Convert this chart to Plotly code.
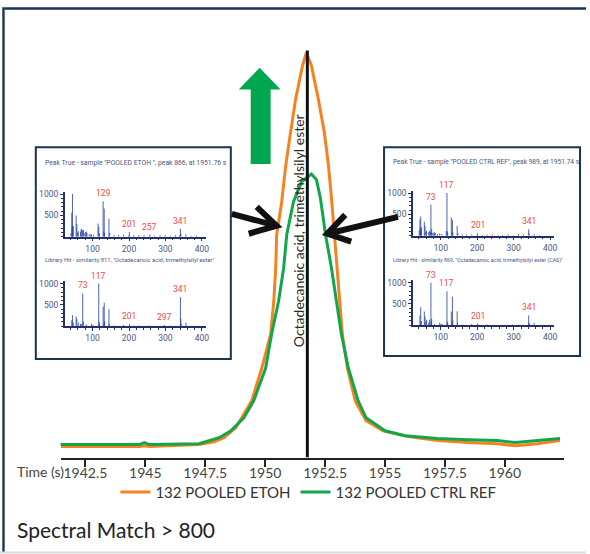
import plotly.graph_objects as go

# ---------------- data ----------------
time_etoh = [1941.48, 1943.09, 1944.75, 1944.96, 1945.17, 1947.24, 1947.87, 1948.28, 1948.78,
             1949.44, 1949.86, 1950.23, 1950.36, 1950.44, 1950.48, 1950.69, 1950.86, 1951.06,
             1951.27, 1951.56, 1951.72, 1951.93, 1952.22, 1952.47, 1952.64, 1952.77, 1952.89,
             1953.02, 1953.10, 1953.22, 1953.43, 1953.76, 1954.21, 1954.92, 1955.96, 1957.20,
             1958.45, 1959.69, 1960.44, 1961.35, 1962.30]
int_etoh = [2.7, 2.7, 2.7, 2.9, 2.7, 3.2, 3.9, 4.9, 7.4,
            14.0, 22.1, 30.5, 38.6, 46.7, 55.0, 63.1, 72.2, 80.3,
            88.5, 96.8, 100.0, 96.8, 88.5, 80.3, 72.2, 63.9, 55.0,
            46.7, 38.6, 30.5, 22.1, 14.0, 9.1, 6.6, 5.2, 4.2,
            3.7, 3.4, 2.9, 3.4, 4.2]

time_ctrl = [1941.35, 1944.75, 1944.96, 1945.17, 1947.24, 1948.08, 1948.57, 1949.11, 1949.52,
             1950.02, 1950.27, 1950.56, 1950.77, 1950.90, 1951.18, 1951.52, 1951.93, 1952.14,
             1952.31, 1952.52, 1952.77, 1952.98, 1953.18, 1953.47, 1953.88, 1954.21, 1955.00,
             1955.83, 1957.20, 1958.45, 1959.69, 1960.44, 1961.35, 1962.30]
int_ctrl = [3.2, 3.2, 3.7, 3.2, 3.4, 4.9, 6.6, 9.8, 14.0,
            22.1, 30.5, 38.6, 46.7, 55.0, 63.1, 68.1, 70.0, 68.6,
            63.9, 55.0, 46.7, 38.6, 30.5, 22.1, 14.0, 9.8, 6.6,
            5.4, 4.7, 4.4, 4.2, 3.7, 4.2, 4.7]

time_ticks = [1942.5, 1945, 1947.5, 1950, 1952.5, 1955, 1957.5, 1960]
time_ticktext = ["1942.5", "1945", "1947.5", "1950", "1952.5", "1955", "1957.5", "1960"]
retention_time = 1951.76
series_names = ["132 POOLED ETOH", "132 POOLED CTRL REF"]
compound = "Octadecanoic acid, trimethylsilyl ester"

# spectra (m/z, abundance)
mz_s1 = [41, 43, 44, 45, 46, 47, 55, 57, 59, 61, 67, 69, 71, 73, 75, 77, 81, 83, 85, 91, 95, 97,
         103, 115, 117, 119, 129, 131, 132, 133, 145, 147, 159, 171, 185, 199, 201, 213, 227, 241,
         257, 269, 285, 299, 313, 327, 339, 341, 342, 356, 370, 385]
ab_s1 = [80, 560, 220, 1000, 240, 250, 500, 300, 100, 130, 120, 180, 170, 150, 160, 90, 110, 120,
         80, 60, 50, 60, 40, 310, 240, 90, 830, 120, 660, 90, 420, 90, 40, 40, 50, 30, 110, 40, 40,
         40, 50, 30, 40, 40, 30, 40, 40, 190, 70, 50, 25, 20]
lab_s1 = [129, 201, 257, 341]

mz_l1 = [43, 45, 47, 55, 57, 61, 67, 69, 73, 75, 83, 97, 101, 117, 118, 119, 129, 131, 132, 133,
         145, 146, 159, 185, 201, 213, 227, 255, 297, 313, 341, 342, 343, 356]
ab_l1 = [140, 260, 90, 230, 170, 90, 50, 60, 770, 110, 40, 60, 30, 1000, 110, 60, 460, 60, 550,
         120, 400, 60, 20, 30, 50, 20, 20, 20, 30, 20, 680, 170, 60, 80]
lab_l1 = [73, 117, 201, 297, 341]

mz_s2 = [41, 43, 44, 45, 46, 47, 55, 57, 59, 61, 67, 69, 71, 73, 74, 75, 77, 81, 83, 85, 91, 97,
         103, 115, 117, 118, 119, 129, 131, 132, 133, 145, 147, 159, 171, 185, 199, 201, 213, 227,
         241, 257, 269, 285, 299, 313, 327, 341, 342, 356, 370]
ab_s2 = [120, 380, 180, 450, 140, 200, 330, 220, 90, 120, 80, 110, 90, 730, 100, 160, 60, 70, 80,
         60, 40, 50, 40, 110, 1000, 100, 60, 430, 80, 370, 80, 230, 60, 30, 30, 30, 20, 60, 20, 30,
         30, 20, 20, 30, 20, 40, 30, 150, 60, 40, 20]
lab_s2 = [73, 117, 201, 341]

mz_l2 = [43, 45, 47, 55, 57, 59, 61, 67, 69, 73, 74, 75, 83, 97, 101, 103, 117, 118, 119, 129,
         131, 132, 133, 145, 146, 159, 185, 201, 227, 297, 313, 341, 342, 343, 356]
ab_l2 = [230, 420, 100, 320, 200, 80, 130, 60, 130, 1000, 90, 150, 30, 60, 30, 30, 800, 90, 50,
         320, 60, 670, 110, 330, 50, 20, 30, 40, 20, 20, 20, 230, 60, 30, 60]
lab_l2 = [73, 117, 201, 341]

titles = [
    'Peak True - sample "POOLED ETOH ", peak 866, at 1951.76 s',
    'Library Hit - similarity 811, "Octadecanoic acid, trimethylsilyl ester"',
    'Peak True - sample "POOLED CTRL REF", peak 989, at 1951.74 s',
    'Library Hit - similarity 869, "Octadecanoic acid, trimethylsilyl ester (CAS)"',
]

# ---------------- styling / layout helpers ----------------
W, H = 590, 554
def fx(p):
    return p / W
def fy(p):
    return 1 - p / H

ORANGE = "#F5821F"
GREEN = "#12A64B"
NAVY = "#1B3352"
BAR = "rgba(38,68,160,0.8)"
RED = "#EC4A45"
AXC = "#24306B"
TXT = "#4A5585"

fig = go.Figure()
fig.add_trace(go.Scatter(x=time_etoh, y=int_etoh, mode="lines", name=series_names[0],
                         line=dict(color=ORANGE, width=3), xaxis="x", yaxis="y"))
fig.add_trace(go.Scatter(x=time_ctrl, y=int_ctrl, mode="lines", name=series_names[1],
                         line=dict(color=GREEN, width=3), xaxis="x", yaxis="y"))

insets = [
    (mz_s1, ab_s1, lab_s1, (65, 207), (235, 190)),
    (mz_l1, ab_l1, lab_l1, (65, 207), (325, 280)),
    (mz_s2, ab_s2, lab_s2, (415, 557), (234, 189)),
    (mz_l2, ab_l2, lab_l2, (415, 557), (324, 279)),
]

layout_axes = {}
annotations = []
for i, (mz, ab, labs, xd, yd) in enumerate(insets):
    n = i + 2
    fig.add_trace(go.Bar(x=mz, y=ab, width=2.8, marker=dict(color=BAR, line_width=0),
                         xaxis=f"x{n}", yaxis=f"y{n}", showlegend=False))
    layout_axes[f"xaxis{n}"] = dict(
        domain=[fx(xd[0]), fx(xd[1])], range=[23.6, 410.9], anchor=f"y{n}",
        showline=True, linecolor=AXC, linewidth=1.5, ticks="outside", ticklen=3,
        tickwidth=1, tickcolor=AXC, tickvals=[100, 200, 300, 400], showgrid=False,
        zeroline=False, tickfont=dict(family="Roboto", size=8.5, color=TXT),
        minor=dict(ticks="outside", ticklen=2, dtick=20, tick0=0, tickcolor=AXC),
    )
    layout_axes[f"yaxis{n}"] = dict(
        domain=[fy(yd[0]), fy(yd[1])], range=[0, 1050], anchor=f"x{n}",
        showline=True, linecolor=AXC, linewidth=1.5, ticks="outside", ticklen=3,
        tickwidth=1, tickcolor=AXC, tickvals=[500, 1000], showgrid=False, zeroline=False,
        tickfont=dict(family="Roboto", size=8.5, color=TXT),
        minor=dict(ticks="outside", ticklen=2, dtick=100, tickcolor=AXC),
    )
    for m in labs:
        annotations.append(dict(x=m, y=ab[mz.index(m)], xref=f"x{n}", yref=f"y{n}",
                                text=str(m), showarrow=False, yanchor="bottom", yshift=1,
                                font=dict(family="Roboto", size=8.5, color=RED)))

# inset titles
title_pos = [(43, 161, 6.8), (43, 258, 5.8), (393, 160, 6.6), (393, 259, 5.3)]
for t, (x, y, s) in zip(titles, title_pos):
    annotations.append(dict(x=fx(x), y=fy(y), xref="paper", yref="paper", text=t,
                            showarrow=False, xanchor="left", yanchor="middle",
                            font=dict(family="Roboto", size=s, color=TXT)))

# vertical compound label
annotations.append(dict(x=fx(300), y=fy(229), xref="paper", yref="paper", text=compound,
                        textangle=-90, showarrow=False, xanchor="center", yanchor="middle",
                        font=dict(family="Lato", size=14, color="#2a2a2a")))
# axis title
annotations.append(dict(x=fx(66), y=fy(471), xref="paper", yref="paper", text="Time (s)",
                        showarrow=False, xanchor="right", yanchor="middle",
                        font=dict(family="Lato", size=14, color="#444")))
# footer
annotations.append(dict(x=fx(15), y=fy(529), xref="paper", yref="paper",
                        text="Spectral Match > 800", showarrow=False, xanchor="left",
                        yanchor="middle", font=dict(family="Lato", size=21, color="#222")))

def path(pts, close=False):
    s = " ".join(("M" if k == 0 else "L") + f" {fx(x):.5f},{fy(y):.5f}" for k, (x, y) in enumerate(pts))
    return s + (" Z" if close else "")

shapes = [
    # frame (top and left edges only)
    dict(type="rect", xref="paper", yref="paper", x0=fx(4.5), x1=fx(589), y0=fy(6.7), y1=fy(4.3),
         line=dict(width=0), fillcolor=NAVY),
    dict(type="rect", xref="paper", yref="paper", x0=fx(2.3), x1=fx(4.7), y0=fy(552), y1=fy(4.3),
         line=dict(width=0), fillcolor=NAVY),
    dict(type="rect", xref="paper", yref="paper", x0=0, x1=fx(589), y0=fy(553.5), y1=fy(551.5),
         line=dict(width=0), fillcolor="#DADADA"),
    # inset boxes
    dict(type="rect", xref="paper", yref="paper", x0=fx(36), x1=fx(232), y0=fy(358), y1=fy(145),
         line=dict(color=NAVY, width=2), fillcolor="rgba(0,0,0,0)", layer="below"),
    dict(type="rect", xref="paper", yref="paper", x0=fx(386), x1=fx(583), y0=fy(355), y1=fy(145),
         line=dict(color=NAVY, width=2), fillcolor="rgba(0,0,0,0)", layer="below"),
    # black pointer arrows
    dict(type="path", xref="paper", yref="paper",
         path=path([(233, 212), (278, 224)]) + " " + path([(258, 205), (278, 224), (250, 232)]),
         line=dict(color="#111", width=6)),
    dict(type="path", xref="paper", yref="paper",
         path=path([(400, 215), (329, 232)]) + " " + path([(347, 213), (329, 232), (353, 240)]),
         line=dict(color="#111", width=6)),
    # green up arrow
    dict(type="path", xref="paper", yref="paper",
         path=path([(261, 65), (282, 87), (272, 87), (272, 162), (252, 162), (252, 87), (240, 87)], True),
         fillcolor="#00A650", line=dict(width=0)),
    # retention-time marker
    dict(type="line", xref="x", yref="y", x0=retention_time, x1=retention_time, y0=0, y1=100.5,
         line=dict(color="#111", width=3)),
]

fig.update_layout(
    width=W, height=H, margin=dict(l=0, r=0, t=0, b=0),
    paper_bgcolor="white", plot_bgcolor="rgba(0,0,0,0)",
    xaxis=dict(domain=[fx(61), fx(566.7)], range=[1941.47, 1962.46], anchor="y",
               showline=True, linecolor="#222", linewidth=2, ticks="outside", ticklen=7,
               tickwidth=2, tickcolor="#222", tickvals=time_ticks, ticktext=time_ticktext,
               showgrid=False, zeroline=False, ticklabelstandoff=-5,
               tickfont=dict(family="Lato", size=14, color="#444")),
    yaxis=dict(domain=[fy(457), fy(45)], range=[0, 101.2], visible=False, anchor="x"),
    legend=dict(orientation="h", x=fx(310), xanchor="center", y=fy(492), yanchor="middle",
                font=dict(family="Lato", size=15, color="#333"), bgcolor="rgba(0,0,0,0)",
                itemwidth=30, tracegroupgap=0),
    showlegend=True,
    annotations=annotations,
    shapes=shapes,
    **layout_axes,
)

fig.write_html("out.html")
